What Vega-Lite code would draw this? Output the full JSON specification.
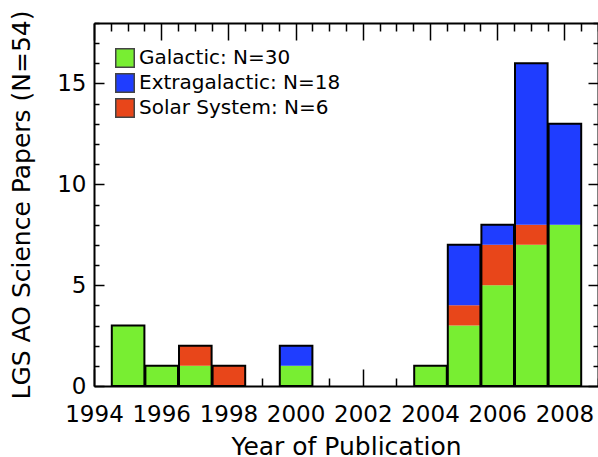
{
  "$schema": "https://vega.github.io/schema/vega-lite/v6.json",
  "autosize": "none",
  "padding": {"left": 94, "top": 23, "right": 0, "bottom": 71},
  "width": 504,
  "height": 363,
  "background": "white",
  "config": {
    "font": "DejaVu Sans",
    "view": {"stroke": null},
    "axis": {
      "domainColor": "black",
      "domainWidth": 2,
      "tickColor": "black",
      "tickWidth": 1.5,
      "labelFont": "DejaVu Sans",
      "labelFontSize": 23,
      "labelColor": "black",
      "titleFont": "DejaVu Sans",
      "titleFontSize": 25,
      "titleFontWeight": "normal",
      "titleColor": "black",
      "grid": false,
      "labelFlush": false,
      "labelOverlap": false
    }
  },
  "data": {
    "values": [
      {"start": 1994.5, "end": 1995.5, "category": "Galactic: N=30", "count": 3},
      {"start": 1995.5, "end": 1996.5, "category": "Galactic: N=30", "count": 1},
      {"start": 1996.5, "end": 1997.5, "category": "Galactic: N=30", "count": 1},
      {"start": 1996.5, "end": 1997.5, "category": "Solar System: N=6", "count": 1},
      {"start": 1997.5, "end": 1998.5, "category": "Solar System: N=6", "count": 1},
      {"start": 1999.5, "end": 2000.5, "category": "Galactic: N=30", "count": 1},
      {"start": 1999.5, "end": 2000.5, "category": "Extragalactic: N=18", "count": 1},
      {"start": 2003.5, "end": 2004.5, "category": "Galactic: N=30", "count": 1},
      {"start": 2004.5, "end": 2005.5, "category": "Galactic: N=30", "count": 3},
      {"start": 2004.5, "end": 2005.5, "category": "Solar System: N=6", "count": 1},
      {"start": 2004.5, "end": 2005.5, "category": "Extragalactic: N=18", "count": 3},
      {"start": 2005.5, "end": 2006.5, "category": "Galactic: N=30", "count": 5},
      {"start": 2005.5, "end": 2006.5, "category": "Solar System: N=6", "count": 2},
      {"start": 2005.5, "end": 2006.5, "category": "Extragalactic: N=18", "count": 1},
      {"start": 2006.5, "end": 2007.5, "category": "Galactic: N=30", "count": 7},
      {"start": 2006.5, "end": 2007.5, "category": "Solar System: N=6", "count": 1},
      {"start": 2006.5, "end": 2007.5, "category": "Extragalactic: N=18", "count": 8},
      {"start": 2007.5, "end": 2008.5, "category": "Galactic: N=30", "count": 8},
      {"start": 2007.5, "end": 2008.5, "category": "Extragalactic: N=18", "count": 5}
    ]
  },
  "layer": [
    {
      "transform": [
        {"calculate": "indexof(['Galactic: N=30', 'Solar System: N=6', 'Extragalactic: N=18'], datum.category)", "as": "stack_order"}
      ],
      "mark": {"type": "bar", "strokeWidth": 0},
      "encoding": {
        "x": {
          "field": "start",
          "type": "quantitative",
          "bin": "binned",
          "scale": {"domain": [1994, 2009], "nice": false, "zero": false},
          "axis": {
            "orient": "bottom",
            "values": [1994, 1994.5, 1995, 1995.5, 1996, 1996.5, 1997, 1997.5, 1998, 1998.5, 1999, 1999.5, 2000, 2000.5, 2001, 2001.5, 2002, 2002.5, 2003, 2003.5, 2004, 2004.5, 2005, 2005.5, 2006, 2006.5, 2007, 2007.5, 2008, 2008.5, 2009],
            "format": "d",
            "labelExpr": "datum.value % 2 === 0 ? datum.label : ''",
            "tickSize": {"condition": {"test": "datum.value % 2 === 0", "value": -17}, "value": -8},
            "labelPadding": 34,
            "title": "Year of Publication",
            "titlePadding": -1
          }
        },
        "x2": {"field": "end"},
        "y": {
          "field": "count",
          "type": "quantitative",
          "stack": "zero",
          "scale": {"domain": [0, 18], "nice": false},
          "axis": {
            "orient": "left",
            "values": [0, 1, 2, 3, 4, 5, 6, 7, 8, 9, 10, 11, 12, 13, 14, 15, 16, 17, 18],
            "labelExpr": "datum.value % 5 === 0 ? datum.label : ''",
            "tickSize": {"condition": {"test": "datum.value % 5 === 0", "value": -10}, "value": -5},
            "labelPadding": 18,
            "title": "LGS AO Science Papers (N=54)",
            "titlePadding": 22
          }
        },
        "order": {"field": "stack_order", "type": "quantitative", "sort": "ascending"},
        "color": {
          "field": "category",
          "type": "nominal",
          "scale": {
            "domain": ["Galactic: N=30", "Extragalactic: N=18", "Solar System: N=6"],
            "range": ["#78EE32", "#1F3DFF", "#E8461A"]
          },
          "legend": {
            "orient": "none",
            "legendX": 21,
            "legendY": 25,
            "title": null,
            "padding": 0,
            "symbolType": "square",
            "symbolSize": 342,
            "symbolStrokeColor": "#444444",
            "symbolStrokeWidth": 1.5,
            "symbolOpacity": 1,
            "labelFont": "DejaVu Sans",
            "labelFontSize": 20,
            "labelColor": "black",
            "labelLimit": 400,
            "rowPadding": -1
          }
        }
      }
    },
    {
      "transform": [
        {"aggregate": [{"op": "sum", "field": "count", "as": "total"}], "groupby": ["start", "end"]}
      ],
      "mark": {"type": "bar", "fill": "transparent", "stroke": "black", "strokeWidth": 2},
      "encoding": {
        "x": {
          "field": "start",
          "type": "quantitative",
          "bin": "binned",
          "axis": {
            "orient": "top",
            "values": [1994, 1994.5, 1995, 1995.5, 1996, 1996.5, 1997, 1997.5, 1998, 1998.5, 1999, 1999.5, 2000, 2000.5, 2001, 2001.5, 2002, 2002.5, 2003, 2003.5, 2004, 2004.5, 2005, 2005.5, 2006, 2006.5, 2007, 2007.5, 2008, 2008.5, 2009],
            "labels": false,
            "title": null,
            "tickSize": {"condition": {"test": "datum.value % 2 === 0", "value": -17}, "value": -8}
          }
        },
        "x2": {"field": "end"},
        "y": {
          "field": "total",
          "type": "quantitative",
          "axis": {
            "orient": "right",
            "values": [0, 1, 2, 3, 4, 5, 6, 7, 8, 9, 10, 11, 12, 13, 14, 15, 16, 17, 18],
            "labels": false,
            "title": null,
            "tickSize": {"condition": {"test": "datum.value % 5 === 0", "value": -10}, "value": -5}
          }
        }
      }
    }
  ],
  "resolve": {"axis": {"x": "independent", "y": "independent"}}
}
